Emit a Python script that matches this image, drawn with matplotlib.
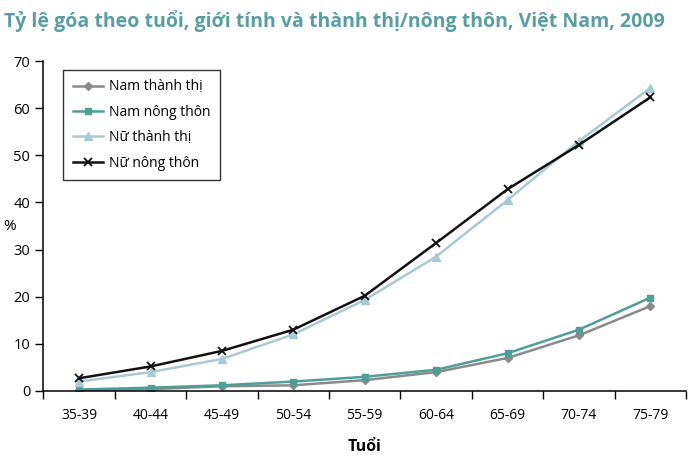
import numpy as np
import matplotlib
matplotlib.use('Agg')
import matplotlib.pyplot as plt

age_groups = ['35-39', '40-44', '45-49', '50-54', '55-59', '60-64', '65-69', '70-74', '75-79']
nam_thanh_thi = [0.2, 0.4, 1.0, 1.2, 2.3, 4.0, 7.0, 11.8, 18.0]
nam_nong_thon = [0.3, 0.7, 1.2, 2.0, 3.0, 4.5, 8.0, 13.0, 19.8]
nu_thanh_thi = [2.0, 4.0, 6.8, 12.0, 19.3, 28.5, 40.5, 53.0, 64.3]
nu_nong_thon = [2.7, 5.2, 8.5, 13.0, 20.2, 31.4, 42.8, 52.2, 62.3]

plt.rcParams['font.family'] = ['Open Sans', 'DejaVu Sans']

fig = plt.figure(figsize=(7, 4.66), dpi=100)
ax = fig.add_axes([0.062, 0.161, 0.918, 0.708])

x = np.arange(len(age_groups))
ax.plot(x, nam_thanh_thi, color='#8a8a8a', marker='D', markersize=4.5, lw=1.8, label='Nam thành thị')
ax.plot(x, nam_nong_thon, color='#4f9e98', marker='s', markersize=5, lw=1.8, label='Nam nông thôn')
ax.plot(x, nu_thanh_thi, color='#a9c9d5', marker='^', markersize=5.5, lw=1.8, label='Nữ thành thị')
ax.plot(x, nu_nong_thon, color='#111111', marker='x', markersize=6, mew=1.3, lw=1.8, label='Nữ nông thôn')

ax.set_xlim(-0.5, len(age_groups) - 0.5)
ax.set_ylim(0, 70)
ax.set_yticks(range(0, 71, 10))
ax.set_xticks(x)
ax.set_xticklabels(age_groups, fontsize=10)
ax.set_xticks(np.arange(-0.5, len(age_groups)), minor=True)
ax.tick_params(axis='x', which='major', length=0, pad=12)
ax.tick_params(axis='x', which='minor', length=6, width=1, direction='out')
ax.tick_params(axis='y', length=6, width=1, direction='out', labelsize=10.5)
for s in ['top', 'right']:
    ax.spines[s].set_visible(False)
for s in ['left', 'bottom']:
    ax.spines[s].set_linewidth(1.1)

ax.set_xlabel('Tuổi', fontsize=11.5, fontweight='bold', labelpad=12)
fig.text(0.005, 0.515, '%', fontsize=11, va='center')

fig.text(0.005, 0.955, 'Tỷ lệ góa theo tuổi, giới tính và thành thị/nông thôn, Việt Nam, 2009',
         fontsize=14, fontweight='bold', color='#5a9ea3', va='center')

leg = ax.legend(loc='upper left', bbox_to_anchor=(0.02, 0.995), fontsize=10, fancybox=False,
                edgecolor='#333333', framealpha=1, borderpad=0.7, labelspacing=0.75,
                handlelength=2.2, handletextpad=0.4)
leg.get_frame().set_linewidth(1.0)

fig.savefig('out.png', dpi=100)
